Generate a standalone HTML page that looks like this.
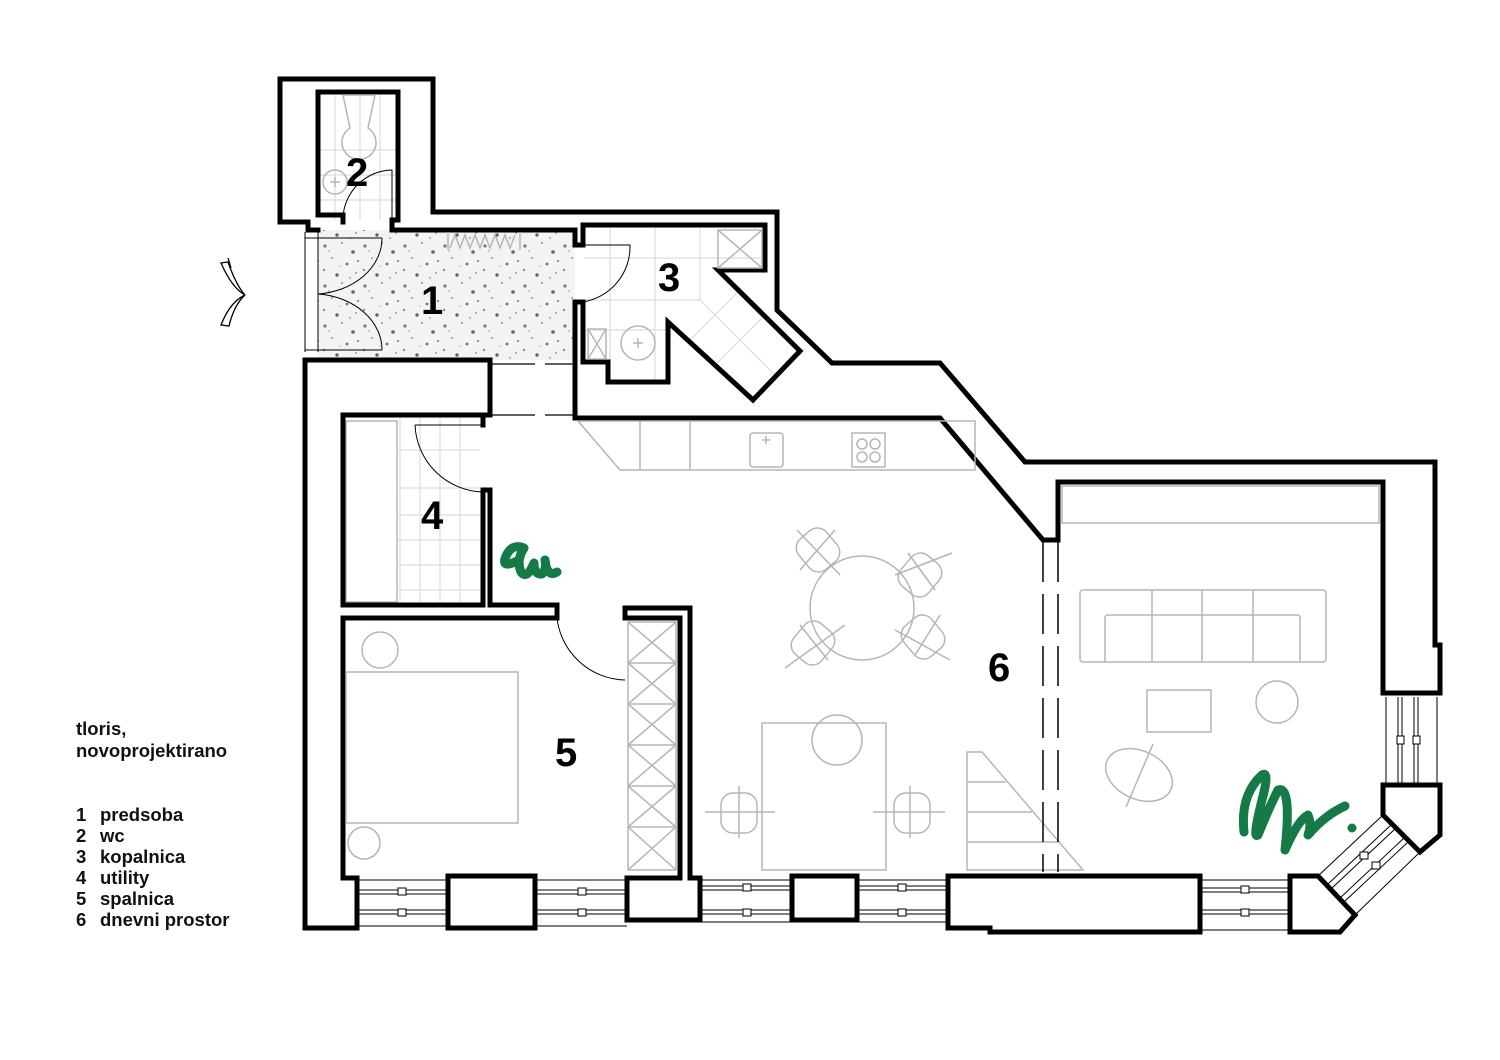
<!DOCTYPE html>
<html><head><meta charset="utf-8"><style>
html,body{margin:0;padding:0;background:#fff;}
svg{display:block;}
.w{fill:none;stroke:#000;stroke-width:5;stroke-linejoin:miter;stroke-linecap:square;}
.g{fill:none;stroke:#b5b5b5;stroke-width:1.5;}
.t{fill:none;stroke:#ddd;stroke-width:1.2;}
.th{fill:none;stroke:#000;stroke-width:1;}
.num{font-family:"Liberation Sans",sans-serif;font-weight:bold;font-size:40px;fill:#000;}
.leg{font-family:"Liberation Sans",sans-serif;font-weight:bold;font-size:18.5px;fill:#111;}
.gr{fill:none;stroke:#167a47;stroke-width:9;stroke-linecap:round;stroke-linejoin:round;}
</style></head><body>
<svg width="1500" height="1060" viewBox="0 0 1500 1060" xmlns="http://www.w3.org/2000/svg">
<defs>
<pattern id="dots" width="40" height="40" patternUnits="userSpaceOnUse">
<rect width="40" height="40" fill="#f3f3f3"/>
<circle cx="5" cy="6" r="1.6" fill="#777"/><circle cx="22" cy="3" r="1" fill="#888"/>
<circle cx="33" cy="12" r="1.8" fill="#666"/><circle cx="12" cy="18" r="1" fill="#999"/>
<circle cx="27" cy="24" r="1.4" fill="#777"/><circle cx="4" cy="30" r="1.2" fill="#888"/>
<circle cx="17" cy="35" r="1.7" fill="#666"/><circle cx="36" cy="33" r="1" fill="#999"/>
<circle cx="9" cy="11" r="0.8" fill="#999"/><circle cx="30" cy="38" r="0.9" fill="#888"/>
<circle cx="20" cy="26" r="0.8" fill="#aaa"/><circle cx="38" cy="21" r="1.1" fill="#888"/>
</pattern>
</defs>

<rect x="318" y="230" width="257" height="130" fill="url(#dots)"/>
<rect x="308" y="225" width="10" height="130" fill="#fff"/>

<g class="t">
<line x1="335" y1="95" x2="335" y2="220"/><line x1="360" y1="95" x2="360" y2="220"/><line x1="380" y1="95" x2="380" y2="220"/>
<line x1="320" y1="150" x2="396" y2="150"/><line x1="320" y1="175" x2="396" y2="175"/><line x1="320" y1="200" x2="396" y2="200"/>
</g>
<g class="t">
<line x1="610" y1="228" x2="610" y2="360"/><line x1="655" y1="228" x2="655" y2="380"/><line x1="700" y1="228" x2="700" y2="300"/>
<line x1="585" y1="258" x2="762" y2="258"/><line x1="585" y1="300" x2="700" y2="300"/><line x1="585" y1="330" x2="668" y2="330"/>
<line x1="700" y1="300" x2="775" y2="375"/><line x1="740" y1="290" x2="690" y2="340"/><line x1="765" y1="315" x2="715" y2="365"/>
</g>
<g class="t">
<line x1="400" y1="418" x2="400" y2="602"/><line x1="420" y1="418" x2="420" y2="602"/><line x1="440" y1="418" x2="440" y2="602"/><line x1="460" y1="418" x2="460" y2="602"/>
<line x1="398" y1="450" x2="480" y2="450"/><line x1="398" y1="488" x2="480" y2="488"/><line x1="398" y1="515" x2="480" y2="515"/><line x1="398" y1="540" x2="480" y2="540"/><line x1="398" y1="565" x2="480" y2="565"/><line x1="398" y1="590" x2="480" y2="590"/>
</g>
<rect x="346" y="421" width="51" height="181" class="g"/>

<path class="w" d="M308,222 L280,222 L280,79 L433,79 L433,212 L777,212 L777,310 L832,363 L940,363 L1025,462 L1435,462 L1435,645 L1440,645 L1440,693 L1383,693 L1383,482 L1058,482 L1058,540 L1043,540 L940,418 L575,418 L575,302 L583,302 L583,362 L608,362 L608,382 L668,382 L668,322 L753,400 L800,351 L718,270 L765,270 L765,225 L583,225 L583,245 L575,245 L575,230 L392,230 L392,220 L398,220 L398,92 L318,92 L318,215 L343,215 L343,222"/>
<path class="w" d="M308,222 L308,230 L318,230"/>
<path class="w" d="M318,360 L490,360 L490,415 L483,415 L483,425"/>
<path class="w" d="M318,360 L305,360 L305,928 L357,928 L357,878 L343,878 L343,618 L557,618 L557,605 L490,605 L490,490 L483,490 L483,605 L343,605 L343,415 L483,415"/>
<path class="w" d="M625,608 L690,608 L690,878 L700,878 L700,920 L627,920 L627,878 L680,878 L680,618 L625,618 Z"/>
<path class="w" d="M448,876 L535,876 L535,928 L448,928 Z"/>
<path class="w" d="M792,876 L857,876 L857,920 L792,920 Z"/>
<path class="w" d="M948,876 L1200,876 L1200,932 L990,932 L990,928 L948,928 Z"/>
<path class="w" d="M1290,876 L1318,876 L1355,915 L1340,932 L1290,932 Z"/>
<path class="w" d="M1383,785 L1440,785 L1440,835 L1420,852 L1383,815 Z"/>

<g class="th">
<path d="M357,880 H448 M357,926 H448 M535,880 H627 M535,926 H627 M700,880 H792 M700,922 H792 M857,880 H948 M857,922 H948 M1200,880 H1290 M1200,930 H1290"/>
<path d="M357,890 H448 M357,894 H448 M357,910 H448 M357,914 H448"/>
<path d="M535,890 H627 M535,894 H627 M535,910 H627 M535,914 H627"/>
<path d="M700,886 H792 M700,890 H792 M700,910 H792 M700,914 H792"/>
<path d="M857,886 H948 M857,890 H948 M857,910 H948 M857,914 H948"/>
<path d="M1200,888 H1290 M1200,892 H1290 M1200,910 H1290 M1200,914 H1290"/>
<path d="M1386,697 V785 M1437,697 V785 M1398,697 V785 M1402,697 V785 M1414,697 V785 M1418,697 V785"/>
<path d="M1318,876 L1383,815 M1355,915 L1420,852 M1328,884 L1392,824 M1332,888 L1396,828 M1340,898 L1404,838 M1344,902 L1408,842"/>
</g>
<g fill="#fff" stroke="#000" stroke-width="1">
<rect x="398" y="888" width="8" height="7"/><rect x="398" y="909" width="8" height="7"/>
<rect x="578" y="888" width="8" height="7"/><rect x="578" y="909" width="8" height="7"/>
<rect x="743" y="884" width="8" height="7"/><rect x="743" y="909" width="8" height="7"/>
<rect x="898" y="884" width="8" height="7"/><rect x="898" y="909" width="8" height="7"/>
<rect x="1241" y="886" width="8" height="7"/><rect x="1241" y="909" width="8" height="7"/>
<rect x="1397" y="736" width="7" height="8"/><rect x="1413" y="736" width="7" height="8"/>
<rect x="1360" y="852" width="8" height="7"/><rect x="1372" y="862" width="8" height="7"/>
</g>

<g class="th">
<line x1="305" y1="232" x2="305" y2="352"/><line x1="318" y1="232" x2="318" y2="352"/>
<line x1="305" y1="238" x2="382" y2="238"/><line x1="305" y1="350" x2="382" y2="350"/>
<path d="M318,294 A70,56 0 0 0 382,238"/>
<path d="M318,294 A70,56 0 0 1 382,350"/>
<path d="M343,218 A50,50 0 0 1 392,170 L392,218"/>
<path d="M583,245 L630,245 A56,56 0 0 1 583,302"/>
<path d="M415,425 L483,425 M415,425 A70,70 0 0 0 483,492"/>
<path d="M557,618 A70,70 0 0 0 625,680"/>
<path d="M221,263 L228,262 Q236,285 245,295 Q232,288 221,263 Z M228,258 L231,268" stroke-width="1.3"/>
<path d="M221,325 L229,326 Q234,305 245,295 Q230,302 221,325 Z" stroke-width="1.3"/>
</g>
<path class="g" d="M448,232 V250 M520,232 V250 M450,248 L455,235 L460,248 L465,235 L470,248 L475,235 L480,248 L485,235 L490,248 L495,235 L500,248 L505,235 L510,248 L515,235"/>
<g stroke="#000" stroke-width="1.2"><line x1="490" y1="364" x2="535" y2="364"/><line x1="545" y1="364" x2="575" y2="364"/><line x1="490" y1="415" x2="535" y2="415"/><line x1="545" y1="415" x2="575" y2="415"/></g>

<g class="g">
<path d="M350,128 A17,17 0 1 0 368,128 L375,95 L343,95 Z"/>
<circle cx="335" cy="182" r="12"/><path d="M330,182 h10 M335,177 v10"/>
</g>
<g class="g">
<rect x="718" y="230" width="44" height="38"/><path d="M718,230 L762,268 M762,230 L718,268"/>
<rect x="588" y="329" width="18" height="30"/><path d="M588,329 L606,359 M606,329 L588,359"/>
<circle cx="638" cy="343" r="17"/><path d="M633,343 h10 M638,338 v10"/>
</g>

<g class="g">
<path d="M578,421 L975,421 L975,470 L620,470 Z"/>
<line x1="640" y1="421" x2="640" y2="470"/><line x1="690" y1="421" x2="690" y2="470"/>
<rect x="750" y="433" width="33" height="34" rx="3"/><path d="M762,440 h8 M766,436 v8"/>
<rect x="852" y="433" width="33" height="34"/>
<circle cx="862" cy="444" r="5"/><circle cx="875" cy="444" r="5"/><circle cx="862" cy="457" r="5"/><circle cx="875" cy="457" r="5"/>
</g>
<g class="g">
<circle cx="862" cy="608" r="52"/>
<rect x="800" y="530" width="36" height="40" rx="12" transform="rotate(-40 818 550)"/>
<rect x="902" y="555" width="36" height="40" rx="12" transform="rotate(40 920 575)"/>
<rect x="795" y="623" width="36" height="40" rx="12" transform="rotate(40 813 643)"/>
<rect x="905" y="617" width="36" height="40" rx="12" transform="rotate(-40 923 637)"/>
<path d="M797,530 L840,575 M835,530 L800,570 M895,575 L952,553 M908,553 L935,590 M785,668 L845,625 M800,625 L828,660 M895,630 L950,660 M940,615 L915,655"/>
</g>
<g class="g">
<rect x="762" y="723" width="124" height="147"/><circle cx="837" cy="740" r="25"/>
<rect x="721" y="793" width="36" height="40" rx="12"/><rect x="894" y="793" width="36" height="40" rx="12"/>
<path d="M705,812 H775 M739,786 V838 M873,812 H945 M910,786 V838"/>
</g>
<g class="g">
<path d="M967,752 L982,752 L1083,870 L967,870 Z"/>
<line x1="967" y1="782" x2="1006" y2="782"/><line x1="967" y1="812" x2="1032" y2="812"/><line x1="967" y1="842" x2="1059" y2="842"/>
</g>
<g stroke="#000" stroke-width="1.5" stroke-dasharray="40,12">
<line x1="1043" y1="542" x2="1043" y2="872"/><line x1="1058" y1="542" x2="1058" y2="872"/>
</g>
<g class="g">
<rect x="1062" y="486" width="317" height="37"/>
<rect x="1080" y="590" width="246" height="72" rx="3"/>
<path d="M1105,662 V618 Q1105,615 1108,615 L1297,615 Q1300,615 1300,618 V662"/>
<path d="M1152,590 V662 M1202,590 V662 M1253,590 V662"/>
<rect x="1147" y="690" width="64" height="42"/><circle cx="1277" cy="702" r="21"/>
<ellipse cx="1139" cy="775" rx="35" ry="24" transform="rotate(25 1139 775)"/>
<path d="M1153,744 L1126,807"/>
</g>
<g class="g">
<rect x="346" y="672" width="172" height="151"/>
<circle cx="380" cy="650" r="18"/><circle cx="364" cy="843" r="16"/>
<rect x="628" y="622" width="48" height="248"/>
<path d="M628,663 H676 M628,704 H676 M628,745 H676 M628,786 H676 M628,827 H676"/>
<path d="M628,622 L676,663 M676,622 L628,663 M628,663 L676,704 M676,663 L628,704 M628,704 L676,745 M676,704 L628,745 M628,745 L676,786 M676,745 L628,786 M628,786 L676,827 M676,786 L628,827 M628,827 L676,870 M676,827 L628,870"/>
</g>

<path class="gr" d="M519,560 Q500,570 506,556 Q512,543 524,548 Q516,560 521,572 Q527,580 534,563 Q534,575 542,574 Q547,568 545,560 Q547,578 557,572"/>
<path class="gr" d="M1244,832 Q1240,795 1262,775 Q1270,770 1262,800 Q1252,840 1258,835 Q1268,810 1278,790 Q1292,785 1285,850 Q1298,820 1308,815 Q1312,825 1308,835 Q1325,815 1345,806"/>
<circle cx="1352" cy="828" r="4.5" fill="#167a47"/>

<text class="num" x="421" y="314">1</text>
<text class="num" x="346" y="186">2</text>
<text class="num" x="658" y="291">3</text>
<text class="num" x="421" y="529">4</text>
<text class="num" x="555" y="766">5</text>
<text class="num" x="988" y="681">6</text>

<text class="leg" x="76" y="735">tloris,</text>
<text class="leg" x="76" y="757">novoprojektirano</text>
<text class="leg" x="76" y="821">1</text><text class="leg" x="100" y="821">predsoba</text>
<text class="leg" x="76" y="842">2</text><text class="leg" x="100" y="842">wc</text>
<text class="leg" x="76" y="863">3</text><text class="leg" x="100" y="863">kopalnica</text>
<text class="leg" x="76" y="884">4</text><text class="leg" x="100" y="884">utility</text>
<text class="leg" x="76" y="905">5</text><text class="leg" x="100" y="905">spalnica</text>
<text class="leg" x="76" y="926">6</text><text class="leg" x="100" y="926">dnevni prostor</text>
</svg>
</body></html>
